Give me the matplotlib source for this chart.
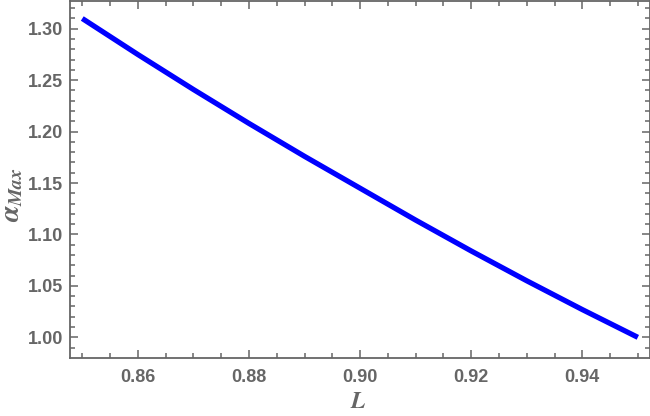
import matplotlib
matplotlib.use("Agg")
import matplotlib.pyplot as plt
from matplotlib.ticker import MultipleLocator

# values
L_vals = [0.85, 0.86, 0.87, 0.88, 0.89, 0.90, 0.91, 0.92, 0.93, 0.94, 0.95]
alpha_max = [1.310, 1.275, 1.241, 1.208, 1.176, 1.145, 1.114, 1.084, 1.055, 1.027, 1.000]

x_ticks = [0.86, 0.88, 0.90, 0.92, 0.94]
y_ticks = [1.00, 1.05, 1.10, 1.15, 1.20, 1.25, 1.30]

grey = "#666666"
plt.rcParams['font.family'] = ['Liberation Sans', 'DejaVu Sans']
plt.rcParams['mathtext.fontset'] = 'stix'

fig = plt.figure(figsize=(6.5, 4.16), dpi=100)
ax = fig.add_axes([69.5/650, 1 - 357.7/416, (649.5 - 69.5)/650, (357.7 - 0.5)/416])

ax.plot(L_vals, alpha_max, color=(0, 0, 1), lw=3.8, solid_capstyle='butt')

ax.set_xlim(0.8477, 0.9521)
ax.set_ylim(0.9802, 1.3275)
ax.set_xticks(x_ticks)
ax.set_yticks(y_ticks)
ax.set_xticklabels(["%.2f" % v for v in x_ticks])
ax.set_yticklabels(["%.2f" % v for v in y_ticks])
ax.xaxis.set_minor_locator(MultipleLocator(0.005))
ax.yaxis.set_minor_locator(MultipleLocator(0.01))

ax.tick_params(which='both', direction='in', top=True, right=True, color=grey,
               labelcolor=grey, labelsize=13, width=1.1)
ax.tick_params(which='major', length=6)
ax.tick_params(which='minor', length=3.5)
ax.tick_params(axis='x', which='major', pad=8)
ax.tick_params(axis='y', which='major', pad=4.5)
for lbl in ax.get_xticklabels() + ax.get_yticklabels():
    lbl.set_fontweight('bold')
for sp in ax.spines.values():
    sp.set_color(grey)
    sp.set_linewidth(1.3)

ax.set_xlabel(r"$\boldsymbol{L}$", fontsize=17, color=grey)
ax.xaxis.set_label_coords(0.497, -0.093)
ax.set_ylabel(r"$\boldsymbol{\alpha}_{\boldsymbol{Max}}$", fontsize=20, color=grey)
ax.yaxis.set_label_coords(-0.076, 0.455)

fig.savefig("out.png", dpi=100)
